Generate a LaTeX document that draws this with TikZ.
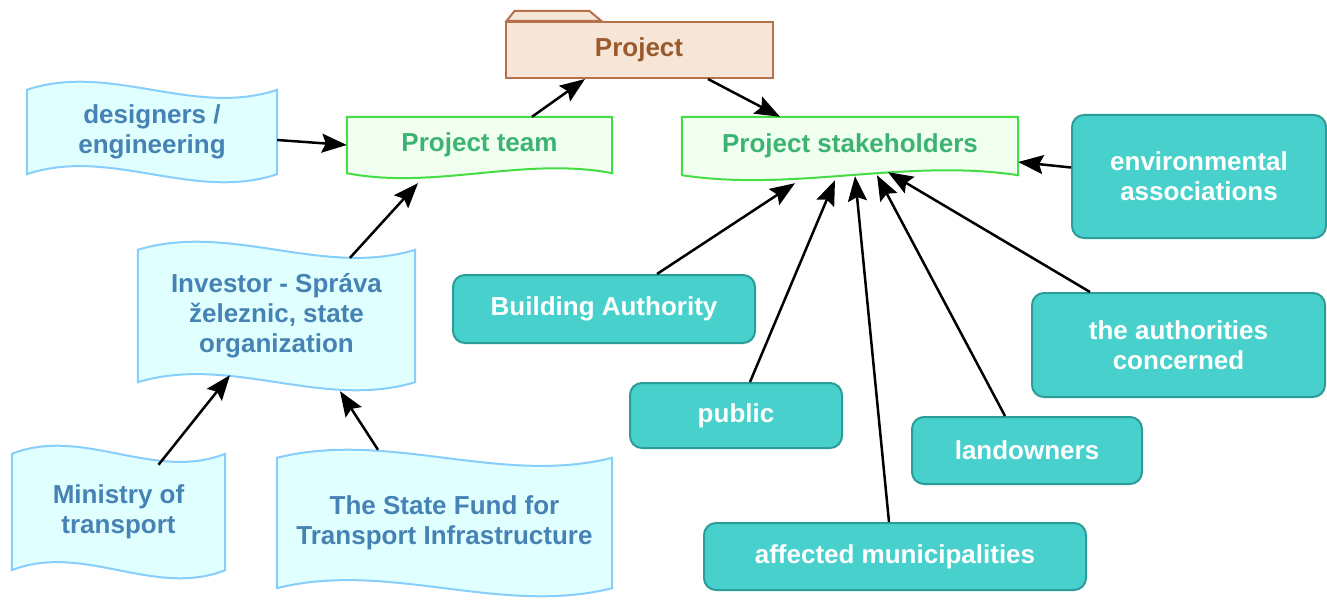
\documentclass[tikz,border=0pt]{standalone}
\usepackage{fontspec}
\setmainfont{Liberation Sans}
\usetikzlibrary{calc,positioning,arrows.meta,backgrounds}

\definecolor{folderline}{HTML}{B8704A}
\definecolor{folderfill}{HTML}{F5E6D8}
\definecolor{foldertext}{HTML}{9A5A2C}
\definecolor{teamline}{HTML}{44DD44}
\definecolor{teamfill}{HTML}{F0FFF0}
\definecolor{teamtext}{HTML}{3CB371}
\definecolor{tapeline}{HTML}{87CEFA}
\definecolor{tapefill}{HTML}{E0FFFF}
\definecolor{tapetext}{HTML}{4682B4}
\definecolor{roleline}{HTML}{2A9D98}
\definecolor{rolefill}{HTML}{48D1CC}

\tikzset{
  every node/.style={font=\fontsize{26}{30}\selectfont\bfseries, align=center, inner sep=0pt},
  folderbox/.style={draw=folderline, fill=folderfill, line width=2pt, text=foldertext},
  teambox/.style={text=teamtext},
  teamshape/.style={draw=teamline, fill=teamfill, line width=2pt},
  tapebox/.style={text=tapetext},
  tapeshape/.style={draw=tapeline, fill=tapefill, line width=2pt},
  rolebox/.style={draw=roleline, fill=rolefill, line width=2pt, text=white, rounded corners=12pt},
  arr/.style={-{Stealth[length=25pt,width=19pt,inset=4pt]}, line width=2.5pt, black},
}

% document shape: flat top, wavy bottom
\newcommand{\docwave}[1]{%
  \draw[teamshape] (#1.north west) -- (#1.north east) -- (#1.south east)
    .. controls ($(#1.south west)!2/3!(#1.south east)+(0,-17)$) and ($(#1.south west)!1/3!(#1.south east)+(0,17)$) .. (#1.south west)
    -- cycle;}

% tape shape: wavy top and bottom
\newcommand{\tapewave}[1]{%
  \draw[tapeshape] (#1.north west)
    .. controls ($(#1.north west)!1/3!(#1.north east)+(0,-28)$) and ($(#1.north west)!2/3!(#1.north east)+(0,28)$) .. (#1.north east)
    -- (#1.south east)
    .. controls ($(#1.south west)!2/3!(#1.south east)+(0,28)$) and ($(#1.south west)!1/3!(#1.south east)+(0,-28)$) .. (#1.south west)
    -- cycle;}

\begin{document}
\begin{tikzpicture}[x=1pt,y=-1pt]
\useasboundingbox (0,0) rectangle (1327,604);

% Project folder
\node[folderbox, minimum width=267pt, minimum height=56pt] (proj) at (639,50) {Project};

% Project team and stakeholders
\node[teambox, minimum width=265pt, minimum height=56pt] (team) at (479.5,145) {Project team};
\node[teambox, minimum width=336pt, minimum height=58pt] (stake) at (850,146) {Project stakeholders};

% team side
\node[tapebox, minimum width=250pt, minimum height=84pt] (des) at (152,132) {designers /\\engineering};
\node[tapebox, minimum width=277pt, minimum height=132pt] (inv) at (276.5,316) {Investor - Spr\'ava\\\v{z}eleznic, state\\organization};
\node[tapebox, minimum width=213pt, minimum height=116pt] (min) at (118.5,512) {Ministry of\\transport};
\node[tapebox, minimum width=335pt, minimum height=130pt] (fund) at (444.5,523) {The State Fund for\\Transport Infrastructure};

% stakeholders
\node[rolebox, minimum width=254pt, minimum height=123pt] (env) at (1199,176.5) {environmental\\associations};
\node[rolebox, minimum width=302pt, minimum height=68pt] (ba) at (604,309) {Building Authority};
\node[rolebox, minimum width=293pt, minimum height=104pt] (auth) at (1178.5,345) {the authorities\\concerned};
\node[rolebox, minimum width=212pt, minimum height=65pt] (pub) at (736,415.5) {public};
\node[rolebox, minimum width=230pt, minimum height=67pt] (land) at (1027,450.5) {landowners};
\node[rolebox, minimum width=382pt, minimum height=67pt] (muni) at (895,556.5) {affected municipalities};

% outlines behind the texts
\begin{pgfonlayer}{background}
\draw[folderbox] ([xshift=2pt]proj.north west) -- ++(8,-10) -- ++(75,0) -- ++(12,10) -- cycle;
\docwave{team}
\docwave{stake}
\tapewave{des}
\tapewave{inv}
\tapewave{min}
\tapewave{fund}
\end{pgfonlayer}

% arrows
\draw[arr] ([xshift=52.5pt]team.north) -- ([xshift=-54pt]proj.south);
\draw[arr] ([xshift=69pt]proj.south) -- ([xshift=-70pt]stake.north);
\draw[arr] ([yshift=-8pt]des.east) -- (team.west);
\draw[arr] ([xshift=73.5pt,yshift=-8pt]inv.north) -- ([xshift=-61.5pt,yshift=-10pt]team.south);
\draw[arr] ([xshift=40pt,yshift=-11pt]min.north) -- ([xshift=-46.5pt,yshift=7pt]inv.south);
\draw[arr] ([xshift=-66.5pt,yshift=8pt]fund.north) -- ([xshift=63.5pt,yshift=-9pt]inv.south);
\draw[arr] ([xshift=53pt]ba.north) -- ([xshift=-55pt,yshift=-8pt]stake.south);
\draw[arr] ([xshift=14pt]pub.north) -- ([xshift=-15pt,yshift=-5pt]stake.south);
\draw[arr] ([xshift=-6pt]muni.north) -- ([xshift=5pt,yshift=-1pt]stake.south);
\draw[arr] ([xshift=-22pt]land.north) -- ([xshift=27pt]stake.south);
\draw[arr] ([xshift=-88.5pt]auth.north) -- ([xshift=38pt,yshift=3pt]stake.south);
\draw[arr] ([yshift=9pt]env.west) -- ([yshift=-16pt]stake.east);
\end{tikzpicture}
\end{document}
